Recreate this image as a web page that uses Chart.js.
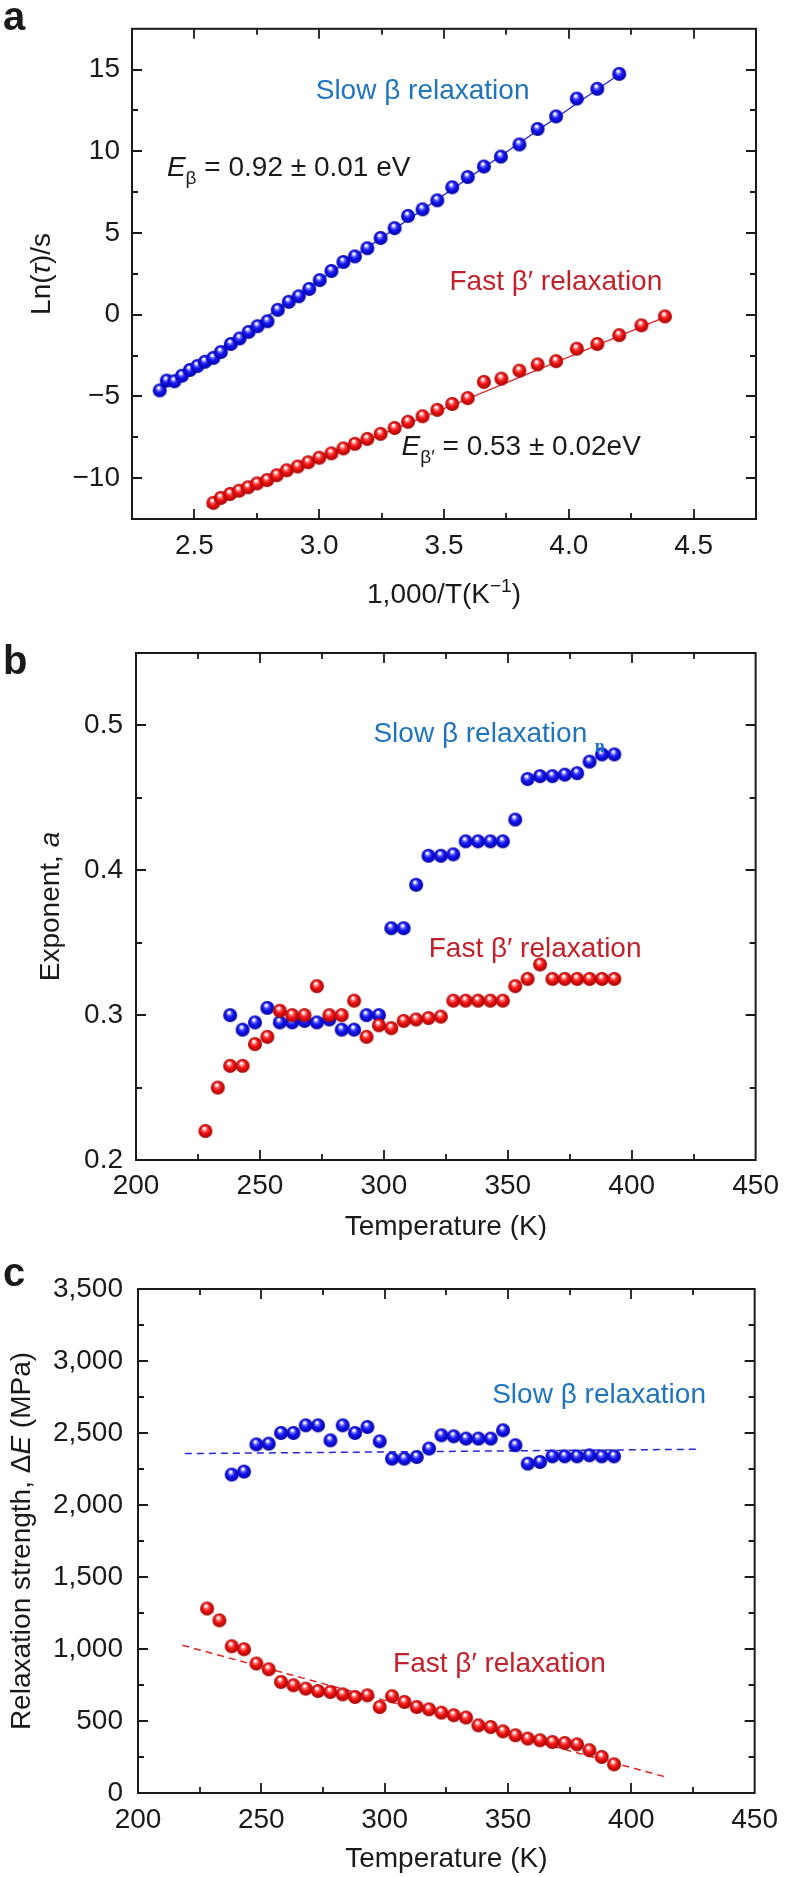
<!DOCTYPE html>
<html lang="en">
<head>
  <meta charset="UTF-8">
  <title>Slow and fast beta relaxations</title>
  <script src="https://cdn.jsdelivr.net/npm/chart.js@4"></script>
  <style>
    body { margin: 0; background: #fff; }
    .panel { position: absolute; left: 0; width: 788px; }
    #pa { top: 0; height: 620px; }
    #pb { top: 620px; height: 620px; }
    #pc { top: 1240px; height: 637px; }
  </style>
</head>
<body>
  <div class="panel" id="pa"><canvas id="chartA" width="788" height="620"></canvas></div>
  <div class="panel" id="pb"><canvas id="chartB" width="788" height="620"></canvas></div>
  <div class="panel" id="pc"><canvas id="chartC" width="788" height="637"></canvas></div>
  <script>
    // ---- panel a: Ln(tau) against 1000/T ----
    const aSlowX = [2.361, 2.389, 2.420, 2.450, 2.482, 2.512, 2.542, 2.576, 2.606, 2.646, 2.681, 2.717, 2.753,
      2.793, 2.834, 2.878, 2.918, 2.960, 3.002, 3.049, 3.097, 3.143, 3.193, 3.246, 3.302, 3.356, 3.414,
      3.473, 3.533, 3.595, 3.660, 3.728, 3.802, 3.875, 3.949, 4.032, 4.114, 4.202];
    const aSlowY = [-4.63, -4.03, -4.07, -3.73, -3.38, -3.14, -2.88, -2.64, -2.28, -1.79, -1.45, -1.05, -0.70,
      -0.40, 0.30, 0.79, 1.13, 1.58, 2.12, 2.68, 3.23, 3.57, 4.07, 4.70, 5.30, 6.05, 6.45,
      7.00, 7.80, 8.43, 9.07, 9.68, 10.42, 11.37, 12.14, 13.23, 13.83, 14.74];
    const aFastX = [2.576, 2.606, 2.643, 2.679, 2.715, 2.751, 2.791, 2.830, 2.870, 2.914, 2.956, 3.000, 3.049,
      3.097, 3.143, 3.193, 3.246, 3.302, 3.356, 3.414, 3.473, 3.533, 3.595, 3.660, 3.730, 3.802,
      3.875, 3.949, 4.032, 4.114, 4.202, 4.291, 4.385];
    const aFastY = [-11.51, -11.21, -10.97, -10.77, -10.56, -10.32, -10.12, -9.82, -9.52, -9.29, -9.03, -8.75, -8.48,
      -8.18, -7.90, -7.60, -7.29, -6.93, -6.55, -6.21, -5.82, -5.46, -5.10, -4.11, -3.91, -3.42,
      -3.04, -2.84, -2.08, -1.79, -1.25, -0.65, -0.10];
    const aSlowFitX = [2.35, 4.22];
    const aSlowFitY = [-4.75, 14.9];
    const aFastFitX = [2.55, 4.39];
    const aFastFitY = [-11.75, -0.12];
    const aXTicks = [2.5, 3.0, 3.5, 4.0, 4.5];
    const aYTicks = [-10, -5, 0, 5, 10, 15];

    // ---- panels b and c: against temperature (K) ----
    const tSlow = [238, 243, 248, 253, 258, 263, 268, 273, 278, 283, 288, 293, 298, 303, 308, 313,
      318, 323, 328, 333, 338, 343, 348, 353, 358, 363, 368, 373, 378, 383, 388, 393];
    const tFast = [228, 233, 238, 243, 248, 253, 258, 263, 268, 273, 278, 283, 288, 293, 298, 303, 308,
      313, 318, 323, 328, 333, 338, 343, 348, 353, 358, 363, 368, 373, 378, 383, 388, 393];
    const bSlow = [0.300, 0.290, 0.295, 0.305, 0.295, 0.295, 0.296, 0.295, 0.297, 0.290, 0.290, 0.300, 0.300,
      0.360, 0.360, 0.390, 0.410, 0.410, 0.411, 0.420, 0.420, 0.420, 0.420, 0.435, 0.463, 0.465,
      0.465, 0.466, 0.467, 0.475, 0.480, 0.480];
    const bFast = [0.220, 0.250, 0.265, 0.265, 0.280, 0.285, 0.303, 0.300, 0.300, 0.320, 0.300, 0.300, 0.310,
      0.285, 0.293, 0.291, 0.296, 0.297, 0.298, 0.299, 0.310, 0.310, 0.310, 0.310, 0.310, 0.320,
      0.325, 0.335, 0.325, 0.325, 0.325, 0.325, 0.325, 0.325];
    const cSlow = [2211, 2232, 2421, 2426, 2500, 2500, 2553, 2553, 2449, 2553, 2500, 2542, 2442, 2322, 2322,
      2333, 2392, 2484, 2477, 2461, 2461, 2461, 2519, 2415, 2287, 2299, 2338, 2338, 2338, 2345, 2338, 2338];
    const cFast = [1281, 1199, 1019, 998, 899, 859, 771, 748, 725, 708, 701, 685, 667, 678, 597, 672, 632,
      597, 581, 558, 540, 524, 470, 458, 428, 401, 378, 366, 354, 347, 338, 297, 250, 199];
    const cSlowFitX = [219, 428];
    const cSlowFitY = [2357, 2387];
    const cFastFitX = [218, 414];
    const cFastFitY = [1026, 111];
    const tTicks = [200, 250, 300, 350, 400, 450];
    const bYTicks = [0.2, 0.3, 0.4, 0.5];
    const cYTicks = [0, 500, 1000, 1500, 2000, 2500, 3000, 3500];

    const FAM = '"Liberation Sans", Arial, Helvetica, sans-serif';
    const INK = '#1a1a1a';
    const BLUE_TXT = '#1f74bd';
    const RED_TXT = '#c0222c';

    const pts = (xs, ys) => xs.map((x, i) => ({ x, y: ys[i] }));

    // shaded ball used as point marker
    function sphere(light, base, dark, r) {
      const c = document.createElement('canvas');
      c.width = c.height = 2 * r + 2;
      const g = c.getContext('2d');
      const cx = r + 1, cy = r + 1;
      const grad = g.createRadialGradient(cx - r * 0.2, cy - r * 0.45, 0, cx, cy, r);
      grad.addColorStop(0, '#ffffff');
      grad.addColorStop(0.14, '#ffffff');
      grad.addColorStop(0.32, light);
      grad.addColorStop(0.55, base);
      grad.addColorStop(1, dark);
      g.fillStyle = grad;
      g.beginPath();
      g.arc(cx, cy, r, 0, Math.PI * 2);
      g.fill();
      return c;
    }
    const blueBall = sphere('#6a6aff', '#1414f5', '#0505a0', 7);
    const redBall = sphere('#ff7070', '#f51414', '#a00505', 7);

    const scatter = (data, ball) => ({
      data, showLine: false, pointStyle: ball, pointRadius: 7, borderWidth: 0
    });
    const fitLine = (data, color, dash, width) => ({
      data, showLine: true, pointRadius: 0, borderColor: color, borderWidth: width, borderDash: dash
    });

    function drawRich(ctx, parts, x, y, opt) {
      const size = opt.size || 28;
      const fontOf = p => (p.it ? 'italic ' : '') + (p.bold ? 'bold ' : '') +
        ((p.sub || p.sup) ? Math.round(size * 0.68) : (p.size || size)) + 'px ' + (p.fam || FAM);
      ctx.save();
      ctx.translate(x, y);
      if (opt.rotate) ctx.rotate(opt.rotate);
      let w = 0;
      parts.forEach(p => { ctx.font = fontOf(p); w += ctx.measureText(p.t).width; });
      let cx = opt.align === 'center' ? -w / 2 : 0;
      ctx.textAlign = 'left';
      ctx.textBaseline = 'alphabetic';
      ctx.fillStyle = opt.color || INK;
      parts.forEach(p => {
        ctx.font = fontOf(p);
        const dy = p.sub ? size * 0.28 : p.sup ? -size * 0.4 : 0;
        ctx.fillText(p.t, cx, dy);
        cx += ctx.measureText(p.t).width;
      });
      ctx.restore();
    }

    // frame with inward ticks on all sides, titles, notes
    function decor(spec) {
      return {
        id: 'decor',
        afterDraw(chart) {
          const { ctx, chartArea: a, scales: { x, y } } = chart;
          ctx.save();
          ctx.strokeStyle = INK;
          ctx.lineWidth = 2;
          ctx.strokeRect(a.left, a.top, a.right - a.left, a.bottom - a.top);
          ctx.lineWidth = 1.8;
          ctx.beginPath();
          const nx = Math.round((x.max - x.min) / spec.xMinor);
          for (let i = 1; i < nx; i++) {
            const v = x.min + i * spec.xMinor;
            const len = x.ticks.some(t => Math.abs(t.value - v) < spec.xMinor * 0.01) ? 10 : 6;
            const px = Math.round(x.getPixelForValue(v));
            ctx.moveTo(px, a.bottom); ctx.lineTo(px, a.bottom - len);
            ctx.moveTo(px, a.top); ctx.lineTo(px, a.top + len);
          }
          const ny = Math.round((y.max - y.min) / spec.yMinor);
          for (let i = 1; i < ny; i++) {
            const v = y.min + i * spec.yMinor;
            const len = y.ticks.some(t => Math.abs(t.value - v) < spec.yMinor * 0.01) ? 10 : 6;
            const py = Math.round(y.getPixelForValue(v));
            ctx.moveTo(a.left, py); ctx.lineTo(a.left + len, py);
            ctx.moveTo(a.right, py); ctx.lineTo(a.right - len, py);
          }
          ctx.stroke();
          ctx.restore();

          drawRich(ctx, [{ t: spec.letter.t, bold: true, size: 40 }], spec.letter.x, spec.letter.y, {});
          drawRich(ctx, spec.xTitle.parts, (a.left + a.right) / 2, a.bottom + spec.xTitle.dy, { align: 'center' });
          drawRich(ctx, spec.yTitle.parts, spec.yTitle.x, (a.top + a.bottom) / 2,
            { align: 'center', rotate: -Math.PI / 2 });
          spec.notes.forEach(n => {
            drawRich(ctx, n.parts, x.getPixelForValue(n.x), y.getPixelForValue(n.y), { color: n.color, size: n.size });
          });
        }
      };
    }

    function makeChart(id, c) {
      return new Chart(document.getElementById(id), {
        type: 'scatter',
        data: { datasets: c.datasets },
        options: {
          responsive: false,
          animation: false,
          layout: { padding: c.padding },
          plugins: { legend: { display: false }, tooltip: { enabled: false } },
          scales: {
            x: {
              type: 'linear', min: c.xMin, max: c.xMax,
              grid: { display: false, drawTicks: false },
              border: { display: false },
              afterBuildTicks: s => { s.ticks = c.xTicks.map(v => ({ value: v })); },
              afterFit: s => { s.height = c.xHeight; },
              ticks: { font: { family: FAM, size: 28 }, color: INK, padding: c.xPad, maxRotation: 0,
                autoSkip: false, callback: c.xFmt }
            },
            y: {
              type: 'linear', min: c.yMin, max: c.yMax,
              grid: { display: false, drawTicks: false },
              border: { display: false },
              afterBuildTicks: s => { s.ticks = c.yTicks.map(v => ({ value: v })); },
              afterFit: s => { s.width = c.yWidth; },
              ticks: { font: { family: FAM, size: 28 }, color: INK, padding: c.yPad,
                autoSkip: false, callback: c.yFmt }
            }
          }
        },
        plugins: [decor(c.decor)]
      });
    }

    const minus = v => (v < 0 ? '\u2212' + Math.abs(v) : String(v));

    makeChart('chartA', {
      xMin: 2.25, xMax: 4.75, yMin: -12.5, yMax: 17.5,
      xTicks: aXTicks, yTicks: aYTicks,
      xFmt: v => v.toFixed(1), yFmt: minus,
      padding: { left: 0, top: 14, right: 32, bottom: 0 },
      yWidth: 132, xHeight: 101, xPad: 10, yPad: 12,
      datasets: [
        scatter(pts(aFastX, aFastY), redBall),
        scatter(pts(aSlowX, aSlowY), blueBall),
        fitLine(pts(aFastFitX, aFastFitY), '#e02424', [], 1.3),
        fitLine(pts(aSlowFitX, aSlowFitY), '#2424d8', [], 1.3)
      ],
      decor: {
        xMinor: 0.25, yMinor: 2.5,
        letter: { t: 'a', x: 3, y: 30 },
        xTitle: { dy: 84, parts: [{ t: '1,000/T(K' }, { t: '\u22121', sup: true }, { t: ')' }] },
        yTitle: { x: 50, parts: [{ t: 'Ln(' }, { t: '\u03c4', it: true }, { t: ')/s' }] },
        notes: [
          { x: 2.986, y: 13.23, color: BLUE_TXT, parts: [{ t: 'Slow \u03b2 relaxation' }] },
          { x: 2.39, y: 8.49, parts: [{ t: 'E', it: true }, { t: '\u03b2', sub: true }, { t: ' = 0.92 \u00b1 0.01 eV' }] },
          { x: 3.522, y: 1.51, color: RED_TXT, parts: [{ t: 'Fast \u03b2\u2032 relaxation' }] },
          { x: 3.33, y: -8.57, parts: [{ t: 'E', it: true }, { t: '\u03b2\u2032', sub: true }, { t: ' = 0.53 \u00b1 0.02eV' }] }
        ]
      }
    });

    makeChart('chartB', {
      xMin: 200, xMax: 450, yMin: 0.2, yMax: 0.55,
      xTicks: tTicks, yTicks: bYTicks,
      xFmt: v => String(v), yFmt: v => v.toFixed(1),
      padding: { left: 0, top: 33, right: 25, bottom: 0 },
      yWidth: 136, xHeight: 80, xPad: 9, yPad: 13,
      datasets: [
        scatter(pts(tFast, bFast), redBall),
        scatter(pts(tSlow, bSlow), blueBall)
      ],
      decor: {
        xMinor: 25, yMinor: 0.05,
        letter: { t: 'b', x: 3, y: 54 },
        xTitle: { dy: 75, parts: [{ t: 'Temperature (K)' }] },
        yTitle: { x: 59, parts: [{ t: 'Exponent, ' }, { t: 'a', it: true }] },
        notes: [
          { x: 295.8, y: 0.4885, color: BLUE_TXT, parts: [{ t: 'Slow \u03b2 relaxation' }] },
          { x: 385.1, y: 0.4814, color: BLUE_TXT, size: 18,
            parts: [{ t: 'n', bold: true, fam: '"Liberation Serif", serif' }] },
          { x: 318.1, y: 0.340, color: RED_TXT, parts: [{ t: 'Fast \u03b2\u2032 relaxation' }] }
        ]
      }
    });

    makeChart('chartC', {
      xMin: 200, xMax: 450, yMin: 0, yMax: 3500,
      xTicks: tTicks, yTicks: cYTicks,
      xFmt: v => String(v), yFmt: v => v.toLocaleString('en-US'),
      padding: { left: 0, top: 49, right: 25, bottom: 0 },
      yWidth: 138, xHeight: 84, xPad: 10, yPad: 15,
      datasets: [
        scatter(pts(tFast, cFast), redBall),
        scatter(pts(tSlow, cSlow), blueBall),
        fitLine(pts(cFastFitX, cFastFitY), '#e02424', [7, 5], 1.5),
        fitLine(pts(cSlowFitX, cSlowFitY), '#2424d8', [7, 5], 1.5)
      ],
      decor: {
        xMinor: 25, yMinor: 250,
        letter: { t: 'c', x: 3, y: 46 },
        xTitle: { dy: 74, parts: [{ t: 'Temperature (K)' }] },
        yTitle: { x: 30, parts: [{ t: 'Relaxation strength, \u0394' }, { t: 'E', it: true }, { t: ' (MPa)' }] },
        notes: [
          { x: 343.6, y: 2708, color: BLUE_TXT, parts: [{ t: 'Slow \u03b2 relaxation' }] },
          { x: 303.4, y: 838, color: RED_TXT, parts: [{ t: 'Fast \u03b2\u2032 relaxation' }] }
        ]
      }
    });
  </script>
</body>
</html>
